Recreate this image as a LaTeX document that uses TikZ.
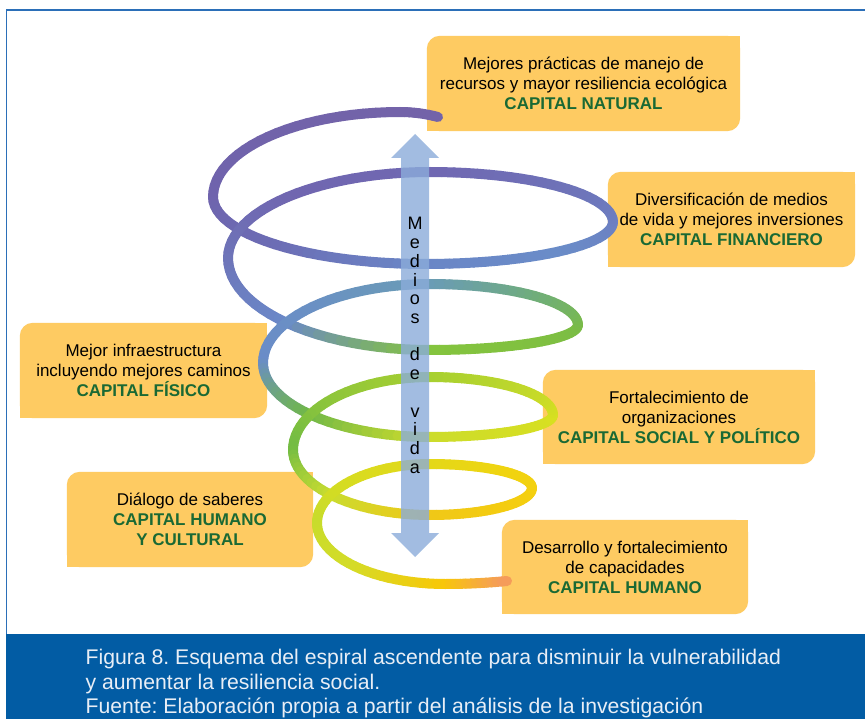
\documentclass[tikz,border=0pt]{standalone}
\usepackage{fontspec}
\setmainfont{Liberation Sans}
\usetikzlibrary{calc}
\frenchspacing
\definecolor{boxc}{HTML}{FECB62}
\definecolor{capgreen}{HTML}{1A6934}
\definecolor{framec}{HTML}{2B6FB8}
\definecolor{bannerc}{HTML}{025CA4}
\definecolor{captext}{HTML}{E8EEF6}
\definecolor{arrowc}{HTML}{8BACDA}
% key colours (at key points)
\definecolor{k0}{HTML}{7363A9}
\definecolor{k1}{HTML}{7363A9}
\definecolor{k2}{HTML}{6F63AD}
\definecolor{k3}{HTML}{6A86C6}
\definecolor{k4}{HTML}{6C80C2}
\definecolor{k5}{HTML}{7068B2}
\definecolor{k6}{HTML}{6E74B8}
\definecolor{k7}{HTML}{84C43E}
\definecolor{k8}{HTML}{7ABC46}
\definecolor{k9}{HTML}{6A9CB4}
\definecolor{k10}{HTML}{6A8CC8}
\definecolor{k11}{HTML}{CCDC2C}
\definecolor{k12}{HTML}{D8E020}
\definecolor{k13}{HTML}{A8D030}
\definecolor{k14}{HTML}{72BC44}
\definecolor{k15}{HTML}{F0C818}
\definecolor{k16}{HTML}{F4D010}
\definecolor{k17}{HTML}{E4D818}
\definecolor{k18}{HTML}{C8DC2C}
\definecolor{k19}{HTML}{F8C808}
\definecolor{k20}{HTML}{F59A5E}
% mid colours (middle of each quarter)
\definecolor{m1}{HTML}{7163AA}
\definecolor{m2}{HTML}{6C6CB4}
\definecolor{m3}{HTML}{6A8CC8}
\definecolor{m4}{HTML}{6E72B8}
\definecolor{m5}{HTML}{7066B0}
\definecolor{m6}{HTML}{6A88C8}
\definecolor{m7}{HTML}{80C040}
\definecolor{m8}{HTML}{70AE78}
\definecolor{m9}{HTML}{6A90C4}
\definecolor{m10}{HTML}{70B848}
\definecolor{m11}{HTML}{D4DE24}
\definecolor{m12}{HTML}{C0D82C}
\definecolor{m13}{HTML}{90C63A}
\definecolor{m14}{HTML}{C8DC30}
\definecolor{m15}{HTML}{F4CC10}
\definecolor{m16}{HTML}{F0D410}
\definecolor{m17}{HTML}{D8DC20}
\definecolor{m18}{HTML}{D4DC28}
\pgfdeclarelayer{back}
\pgfdeclarelayer{bg}
\pgfsetlayers{back,bg,main}
\tikzset{
  boxtext/.style={inner sep=0pt, align=center, font=\fontsize{17}{20}\selectfont, text=black},
  captxt/.style={anchor=base west, inner sep=0pt, font=\fontsize{21.2}{24}\selectfont, text=captext},
  vlet/.style={anchor=base, inner sep=0pt, font=\fontsize{18}{18}\selectfont, text=black},
  spiralseg/.style={line width=10pt, line cap=round},
}
\newcommand\capboxfill[1]{%
  \fill[boxc, rounded corners=13pt] (#1.south west) rectangle (#1.north east);
  \fill[boxc] (#1.north east) rectangle ++(-15,15);
  \fill[boxc] (#1.south west) rectangle ++(15,-15);
}
\def\KX{{438,400,213,425,613,430,228,430,578,430,263,430,553,430,293,430,532,430,317,445,507}}
\def\KY{{117,112,197,264,222,172,258,350,325,284,363,437,415,377,450,515,488,464,523,584,581}}
\def\NS{24}
\def\NH{12}
\begin{document}
\begin{tikzpicture}[x=1pt,y=-1pt]
\useasboundingbox (0,0) rectangle (865,719);
\begin{pgfonlayer}{back}
  \fill[white] (0,0) rectangle (865,719);
  \draw[framec, line width=1.5pt] (6.5,634) -- (6.5,10) -- (866,10);
  \fill[bannerc] (6,634) rectangle (866,720);
\end{pgfonlayer}
% boxes
\node[boxtext, minimum width=313pt, minimum height=95pt] (nat) at (583.5,83.5)
  {Mejores prácticas de manejo de\\recursos y mayor resiliencia ecológica\\\textcolor{capgreen}{\textbf{CAPITAL NATURAL}}};
\node[boxtext, minimum width=247pt, minimum height=95pt] (fin) at (731.5,219.5)
  {Diversificación de medios\\de vida y mejores inversiones\\\textcolor{capgreen}{\textbf{CAPITAL FINANCIERO}}};
\node[boxtext, minimum width=247pt, minimum height=95pt] (fis) at (143.5,370.5)
  {Mejor infraestructura\\incluyendo mejores caminos\\\textcolor{capgreen}{\textbf{CAPITAL FÍSICO}}};
\node[boxtext, minimum width=272pt, minimum height=94pt] (soc) at (679,417)
  {Fortalecimiento de\\organizaciones\\\textcolor{capgreen}{\textbf{CAPITAL SOCIAL Y POLÍTICO}}};
\node[boxtext, minimum width=246pt, minimum height=95pt] (cul) at (190,519.5)
  {Diálogo de saberes\\\textcolor{capgreen}{\textbf{CAPITAL HUMANO}}\\\textcolor{capgreen}{\textbf{Y CULTURAL}}};
\node[boxtext, minimum width=246pt, minimum height=94pt] (hum) at (625,567)
  {Desarrollo y fortalecimiento\\de capacidades\\\textcolor{capgreen}{\textbf{CAPITAL HUMANO}}};
\begin{pgfonlayer}{bg}
  \capboxfill{nat}\capboxfill{fin}\capboxfill{fis}
  \capboxfill{soc}\capboxfill{cul}\capboxfill{hum}
\end{pgfonlayer}
% spiral: start piece
\foreach \j in {1,...,8}{
  \pgfmathsetmacro\ta{(\j-1)/8}
  \pgfmathsetmacro\tb{\j/8}
  \pgfmathtruncatemacro\pc{(\j-0.5)*100/8}
  \draw[spiralseg, color=k1!\pc!k0] ({438-38*\ta},{112+5*(1-\ta)^2}) -- ({438-38*\tb},{112+5*(1-\tb)^2});
}
% spiral quarters
\foreach \i in {1,...,18}{
  \pgfmathtruncatemacro\ni{\i+1}
  \pgfmathsetmacro\ax{\KX[\i]}
  \pgfmathsetmacro\ay{\KY[\i]}
  \pgfmathsetmacro\bx{\KX[\ni]}
  \pgfmathsetmacro\by{\KY[\ni]}
  \foreach \j in {1,...,\NS}{
    \pgfmathsetmacro\sa{(\j-1)*90/\NS}
    \pgfmathsetmacro\sb{\j*90/\NS}
    \ifodd\i
      \coordinate (sp) at ({\ax+(\bx-\ax)*sin(\sa)},{\by+(\ay-\by)*cos(\sa)});
      \coordinate (sq) at ({\ax+(\bx-\ax)*sin(\sb)},{\by+(\ay-\by)*cos(\sb)});
    \else
      \coordinate (sp) at ({\bx+(\ax-\bx)*cos(\sa)},{\ay+(\by-\ay)*sin(\sa)});
      \coordinate (sq) at ({\bx+(\ax-\bx)*cos(\sb)},{\ay+(\by-\ay)*sin(\sb)});
    \fi
    \ifnum\j>\NH
      \pgfmathtruncatemacro\pc{(\j-\NH-0.5)*100/\NH}
      \draw[spiralseg, color=k\ni!\pc!m\i] (sp) -- (sq);
    \else
      \pgfmathtruncatemacro\pc{(\j-0.5)*100/\NH}
      \draw[spiralseg, color=m\i!\pc!k\i] (sp) -- (sq);
    \fi
  }
}
% spiral: end piece
\foreach \j in {1,...,12}{
  \pgfmathsetmacro\ta{(\j-1)/12}
  \pgfmathsetmacro\tb{\j/12}
  \pgfmathtruncatemacro\pc{(\j-0.5)*100/12}
  \draw[spiralseg, color=k20!\pc!k19] ({445+62*\ta},{584-3*\ta^2}) -- ({445+62*\tb},{584-3*\tb^2});
}
% double arrow
\fill[arrowc, fill opacity=0.8] (415,134) -- (439,158) -- (429,158) -- (429,533) -- (439,533)
  -- (415,557) -- (391,533) -- (401,533) -- (401,158) -- (391,158) -- cycle;
\foreach \ch/\k [count=\c] in {M/0,e/1,d/2,i/3,o/4,s/5,d/7,e/8,v/10,i/11,d/12,a/13}
  \node[vlet] (mv\c) at (415,{230+18.7*\k}) {\ch};
% caption
\node[captxt] (cap1) at (85.5,664) {Figura 8. Esquema del espiral ascendente para disminuir la vulnerabilidad};
\node[captxt] (cap2) at (85.5,689) {y aumentar la resiliencia social.};
\node[captxt] (cap3) at (85.5,713) {Fuente: Elaboración propia a partir del análisis de la investigación};
\end{tikzpicture}
\end{document}
